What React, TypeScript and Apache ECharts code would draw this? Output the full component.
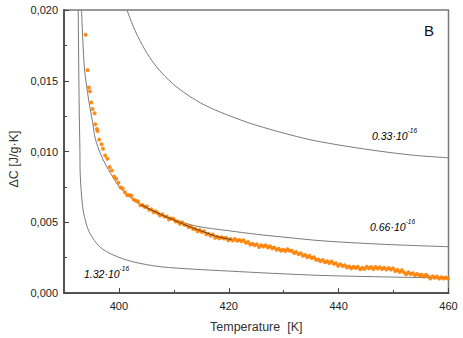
import React, { useEffect, useRef } from "react";
import * as echarts from "echarts";

const xMajorTicks = [400, 420, 440, 460];
const xMinorTicks = [410, 430, 450];

// model curves
const curve033: number[][] = [
  [401.46, 0.02], [402.93, 0.01855], [404.75, 0.01718], [406.57, 0.01612], [408.39, 0.01531],
  [411.11, 0.01438], [414.12, 0.0136], [417.18, 0.01299], [423.31, 0.01207], [429.32, 0.01137],
  [435.33, 0.01079], [441.47, 0.01037], [447.54, 0.01002], [453.55, 0.00974], [460, 0.00955],
];
const curve066: number[][] = [
  [393.2, 0.02], [393.7, 0.01597], [394.5, 0.01362], [395.2, 0.0121], [395.7, 0.0109],
  [396.9, 0.00961], [398.5, 0.00844], [400.6, 0.00727], [404.5, 0.00609], [408.8, 0.00538],
  [413.8, 0.00475], [420, 0.0044], [425, 0.00415], [430, 0.00395], [436.6, 0.0037],
  [445, 0.0035], [452, 0.00338], [460, 0.00327],
];
const curve132: number[][] = [
  [392.59, 0.02], [392.75, 0.0135], [392.9, 0.01], [392.95, 0.0084], [393.39, 0.0061],
  [393.9, 0.0051], [394.7, 0.00423], [396.5, 0.00327], [399.0, 0.00268], [402.5, 0.00221],
  [407.5, 0.00186], [413.8, 0.00168], [420, 0.00155], [428, 0.00139], [437, 0.00124],
  [448, 0.00114], [460, 0.00106],
];
const fitLine: number[][] = [
  [404, 0.00625], [406, 0.00585], [408, 0.00548], [410, 0.00515], [412, 0.00482],
  [414, 0.00452], [416, 0.00424], [418, 0.00398], [420.5, 0.00378],
];
const measured: number[][] = [
  [393.93, 0.01825], [394.3, 0.01575], [394.54, 0.01453], [394.72, 0.01425], [394.95, 0.01347],
  [395.21, 0.013], [395.57, 0.0127], [395.68, 0.01192], [395.99, 0.01159], [396.12, 0.01145],
  [396.41, 0.01084], [396.85, 0.01051],
  [397.1, 0.01019], [397.5, 0.00971], [397.9, 0.00949], [398.3, 0.0089], [398.7, 0.00866],
  [399.1, 0.00824], [399.5, 0.00808], [399.9, 0.00779], [400.3, 0.00745], [400.7, 0.00739],
  [401.1, 0.00712], [401.5, 0.00691], [401.9, 0.00693], [402.3, 0.00687], [402.7, 0.0066],
  [403.1, 0.00652], [403.5, 0.00647], [403.9, 0.0062], [404.3, 0.00621], [404.7, 0.00608],
  [405.1, 0.00611], [405.5, 0.00589], [405.9, 0.00591], [406.3, 0.0057], [406.7, 0.00577],
  [407.1, 0.00564], [407.5, 0.00548], [407.9, 0.00556], [408.3, 0.00539], [408.7, 0.00541],
  [409.1, 0.0052], [409.5, 0.00526], [409.9, 0.00524], [410.3, 0.00505], [410.7, 0.00506],
  [411.1, 0.00489], [411.5, 0.005], [411.9, 0.00482], [412.3, 0.00481], [412.7, 0.00464],
  [413.1, 0.0047], [413.5, 0.00453], [413.9, 0.00453], [414.3, 0.00437], [414.7, 0.00446],
  [415.1, 0.00431], [415.5, 0.00436], [415.9, 0.00415], [416.3, 0.00418], [416.7, 0.00405],
  [417.1, 0.00413], [417.5, 0.00391], [417.9, 0.00398], [418.3, 0.00386], [418.7, 0.00395],
  [419.1, 0.00385], [419.5, 0.00391], [419.9, 0.00372], [420.3, 0.00382], [420.7, 0.00371],
  [421.1, 0.00382], [421.5, 0.00369], [421.9, 0.00375], [422.3, 0.00365], [422.7, 0.00373],
  [423.1, 0.00355], [423.5, 0.0036], [423.9, 0.00343], [424.3, 0.00348], [424.7, 0.00337],
  [425.1, 0.00344], [425.5, 0.00325], [425.9, 0.00337], [426.3, 0.00328], [426.7, 0.00337],
  [427.1, 0.00322], [427.5, 0.0033], [427.9, 0.00317], [428.3, 0.00322], [428.7, 0.00306],
  [429.1, 0.00312], [429.5, 0.00298], [429.9, 0.00306], [430.3, 0.00296], [430.7, 0.00309],
  [431.1, 0.00298], [431.5, 0.00299], [431.9, 0.00283], [432.3, 0.0029], [432.7, 0.00274],
  [433.1, 0.00281], [433.5, 0.00264], [433.9, 0.00269], [434.3, 0.00252], [434.7, 0.00263],
  [435.1, 0.00248], [435.5, 0.00252], [435.9, 0.00235], [436.3, 0.00237], [436.7, 0.00224],
  [437.1, 0.00233], [437.5, 0.00217], [437.9, 0.00224], [438.3, 0.00212], [438.7, 0.00223],
  [439.1, 0.00206], [439.5, 0.0021], [439.9, 0.00192], [440.3, 0.00203], [440.7, 0.0019],
  [441.1, 0.00196], [441.5, 0.00181], [441.9, 0.00188], [442.3, 0.00174], [442.7, 0.00186],
  [443.1, 0.00176], [443.5, 0.00185], [443.9, 0.00168], [444.3, 0.00178], [444.7, 0.00169],
  [445.1, 0.00185], [445.5, 0.00174], [445.9, 0.00183], [446.3, 0.00169], [446.7, 0.00183],
  [447.1, 0.00173], [447.5, 0.00182], [447.9, 0.0017], [448.3, 0.00178], [448.7, 0.00166],
  [449.1, 0.00177], [449.5, 0.00166], [449.9, 0.00174], [450.3, 0.00156], [450.7, 0.00162],
  [451.1, 0.00149], [451.5, 0.00161], [451.9, 0.00145], [452.3, 0.00133], [452.7, 0.00146],
  [453.1, 0.00134], [453.5, 0.0014], [453.9, 0.00126], [454.3, 0.00135], [454.7, 0.00125],
  [455.1, 0.00129], [455.5, 0.00117], [455.9, 0.00129], [456.3, 0.00116], [456.7, 0.00102],
  [457.1, 0.00118], [457.5, 0.00107], [457.9, 0.00116], [458.3, 0.00102], [458.7, 0.00112],
  [459.1, 0.00102], [459.5, 0.00109], [459.9, 0.00102],
];

const curveLabels = ["0.33·10", "0.66·10", "1.32·10"];
const exponentLabel = "-16";
const panelLetter = "B";
const yTitle = "ΔC [J/g·K]";
const xTitle = "Temperature  [K]";

const FONT = "Liberation Sans, Arial, sans-serif";

export default function App() {
  const ref = useRef<HTMLDivElement>(null);
  useEffect(() => {
    if (!ref.current) return;
    const chart = echarts.init(ref.current, null, { renderer: "svg" });
    const curveStyle = { color: "#7a7a7a", width: 1 };
    const mkCurve = (data: number[][], smooth: number) => ({
      type: "line",
      data,
      smooth,
      showSymbol: false,
      lineStyle: curveStyle,
      clip: true,
      z: 2,
    });
    const rich = {
      a: { fontSize: 10.5, fontStyle: "italic", color: "#333", fontFamily: FONT, verticalAlign: "bottom", lineHeight: 14 },
      s: { fontSize: 6.5, fontStyle: "italic", color: "#333", fontFamily: FONT, verticalAlign: "top", lineHeight: 8 },
    };
    const labelText = (t: string) => `{a|${t}}{s|${exponentLabel}}`;
    chart.setOption({
      animation: false,
      backgroundColor: "#fff",
      grid: { left: 64, top: 10, right: 14.5, bottom: 45, show: true, borderColor: "#777", borderWidth: 1.5, backgroundColor: "transparent" },
      xAxis: [
        {
          type: "value",
          min: 390,
          max: 460,
          interval: 10,
          name: xTitle,
          nameLocation: "middle",
          nameGap: 27,
          nameTextStyle: { fontSize: 12.5, color: "#333", fontFamily: FONT },
          axisLine: { show: true, onZero: false, lineStyle: { color: "#555", width: 2 } },
          axisTick: { show: true, inside: true, length: 5, customValues: xMajorTicks, lineStyle: { color: "#444", width: 1 } },
          axisLabel: { customValues: xMajorTicks, fontSize: 11, color: "#222", fontFamily: FONT, margin: 7 },
          splitLine: { show: false },
        },
        {
          type: "value",
          min: 390,
          max: 460,
          interval: 10,
          position: "bottom",
          axisLine: { show: false },
          axisTick: { show: true, inside: true, length: 3, customValues: xMinorTicks, lineStyle: { color: "#444", width: 1 } },
          axisLabel: { show: false },
          splitLine: { show: false },
        },
      ],
      yAxis: {
        type: "value",
        min: 0,
        max: 0.02,
        interval: 0.005,
        axisLine: { show: true, onZero: false, lineStyle: { color: "#555", width: 2 } },
        axisTick: { show: true, inside: true, length: 5, lineStyle: { color: "#444", width: 1 } },
        minorTick: { show: true, splitNumber: 2, length: 3, lineStyle: { color: "#444", width: 1 } },
        axisLabel: {
          fontSize: 11,
          color: "#222",
          fontFamily: FONT,
          margin: 6,
          formatter: (v: number) => v.toFixed(3).replace(".", ","),
        },
        splitLine: { show: false },
      },
      series: [
        mkCurve(curve033, 0.3),
        mkCurve(curve066, 0.3),
        mkCurve(curve132, 0.3),
        {
          type: "scatter",
          data: measured,
          symbol: "circle",
          symbolSize: 4,
          itemStyle: { color: "#ff8000", opacity: 0.9 },
          z: 3,
        },
        {
          type: "line",
          data: fitLine,
          smooth: 0.3,
          showSymbol: false,
          lineStyle: { color: "#222", width: 0.7 },
          z: 4,
        },
      ],
      graphic: [
        {
          type: "text",
          x: 14,
          y: 159,
          rotation: Math.PI / 2,
          style: { text: yTitle, fontSize: 12.5, fill: "#333", fontFamily: FONT, align: "center", verticalAlign: "middle" },
        },
        { type: "text", left: 424, top: 23, style: { text: panelLetter, fontSize: 15, fill: "#111", fontFamily: FONT } },
        { type: "text", left: 372, top: 127, style: { text: labelText(curveLabels[0]), rich } },
        { type: "text", left: 370, top: 218, style: { text: labelText(curveLabels[1]), rich } },
        { type: "text", left: 84, top: 265, style: { text: labelText(curveLabels[2]), rich } },
      ],
    });
    return () => chart.dispose();
  }, []);
  return <div ref={ref} style={{ position: "fixed", left: 0, top: 0, width: 463, height: 338, background: "#fff" }} />;
}
